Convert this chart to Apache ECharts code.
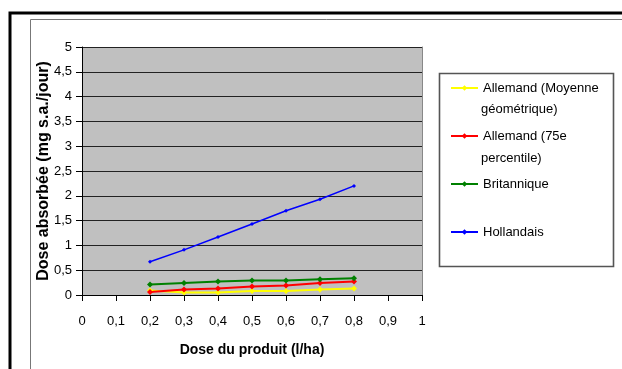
<!DOCTYPE html>
<html><head><meta charset="utf-8">
<script src="https://cdn.jsdelivr.net/npm/echarts@6/dist/echarts.min.js"></script>
<style>html,body{margin:0;padding:0;background:#fff}#c{width:622px;height:369px}</style>
</head><body><div id="c"></div>
<script>
const doses = [0.2, 0.3, 0.4, 0.5, 0.6, 0.7, 0.8];
const allemandMoyenne = [0.09, 0.05, 0.05, 0.08, 0.08, 0.11, 0.13];
const allemand75 = [0.06, 0.11, 0.13, 0.17, 0.19, 0.24, 0.27];
const britannique = [0.21, 0.24, 0.27, 0.29, 0.29, 0.32, 0.34];
const hollandais = [0.67, 0.91, 1.17, 1.43, 1.70, 1.93, 2.20];
const seriesNames = ['Allemand (Moyenne géométrique)', 'Allemand (75e percentile)', 'Britannique', 'Hollandais'];
const legendFirstLines = ['Allemand (Moyenne', 'Allemand (75e', 'Britannique', 'Hollandais'];
const legendSecondLines = ['géométrique)', 'percentile)'];
const xTitle = 'Dose du produit (l/ha)';
const yTitle = 'Dose absorbée (mg s.a./jour)';

const FONT = 'Liberation Sans, Arial, sans-serif';
const pairs = arr => doses.map((d, i) => [d, arr[i]]);
const fmt = v => String(Math.round(v * 10) / 10).replace('.', ',');

function mk(name, data, color, sym, size, w) {
  return {
    name, type: 'line', data: pairs(data), symbol: sym, symbolSize: size,
    lineStyle: { color, width: w }, itemStyle: { color },
    emphasis: { disabled: true }, animation: false
  };
}

const chart = echarts.init(document.getElementById('c'), null, { renderer: 'canvas' });
chart.setOption({
  animation: false,
  textStyle: { fontFamily: FONT },
  grid: { left: 82, right: 200, top: 47, bottom: 74, show: true, backgroundColor: '#c0c0c0', borderWidth: 0 },
  xAxis: {
    type: 'value', min: 0, max: 1, interval: 0.1,
    name: xTitle, nameLocation: 'middle', nameGap: 48, nameMoveOverlap: false,
    nameTextStyle: { fontFamily: FONT, fontSize: 14, fontWeight: 'bold', color: '#000' },
    axisLine: { show: true, onZero: false, lineStyle: { color: '#000', width: 1 } },
    axisTick: { show: true, inside: false, length: 6, lineStyle: { color: '#000' } },
    axisLabel: { formatter: fmt, margin: 20, fontSize: 13, color: '#000', fontFamily: FONT },
    splitLine: { show: false }
  },
  yAxis: [{
    type: 'value', min: 0, max: 5, interval: 0.5,
    axisLine: { show: true, lineStyle: { color: '#000', width: 1 } },
    axisTick: { show: true, inside: false, length: 6, lineStyle: { color: '#000' } },
    axisLabel: { formatter: fmt, margin: 10, fontSize: 13, color: '#000', fontFamily: FONT },
    splitLine: { show: true, lineStyle: { color: '#222', width: 1 } }
  }, {
    type: 'value', min: 0, max: 5, interval: 0.5, position: 'right',
    axisLine: { show: true, lineStyle: { color: '#888', width: 1 } },
    axisTick: { show: false }, axisLabel: { show: false }, splitLine: { show: false }
  }],
  legend: {
    orient: 'vertical', left: 445, top: 76, itemGap: 34, itemWidth: 27, itemHeight: 7,
    data: seriesNames,
    formatter: n => legendFirstLines[seriesNames.indexOf(n)],
    textStyle: { fontFamily: FONT, fontSize: 13, color: '#000', lineHeight: 14 },
    selectedMode: false
  },
  graphic: [
    { type: 'rect', z: -10, shape: { x: 10, y: 13, width: 700, height: 500 }, style: { fill: 'none', stroke: '#000', lineWidth: 3 } },
    { type: 'rect', z: -10, shape: { x: 30.5, y: 19.5, width: 700, height: 500 }, style: { fill: 'none', stroke: '#777', lineWidth: 1 } },
    { type: 'rect', z: -8, shape: { x: 439.5, y: 73.5, width: 174, height: 193 }, style: { fill: '#fff', stroke: '#555', lineWidth: 1.6 } },
    { type: 'text', left: 481, top: 103, style: { text: legendSecondLines[0], font: '13px ' + FONT, fill: '#000' } },
    { type: 'text', left: 481, top: 152, style: { text: legendSecondLines[1], font: '13px ' + FONT, fill: '#000' } },
    { type: 'text', x: 44, y: 171, rotation: Math.PI / 2, z: 10,
      style: { text: yTitle, font: 'bold 16px ' + FONT, fill: '#000', align: 'center', verticalAlign: 'middle' } }
  ],
  series: [
    mk(seriesNames[0], allemandMoyenne, '#ffff00', 'diamond', 6, 2),
    mk(seriesNames[1], allemand75, '#ff0000', 'diamond', 6, 2),
    mk(seriesNames[2], britannique, '#008000', 'diamond', 6, 2),
    mk(seriesNames[3], hollandais, '#0000ff', 'diamond', 4, 1.5)
  ]
});
</script></body></html>
